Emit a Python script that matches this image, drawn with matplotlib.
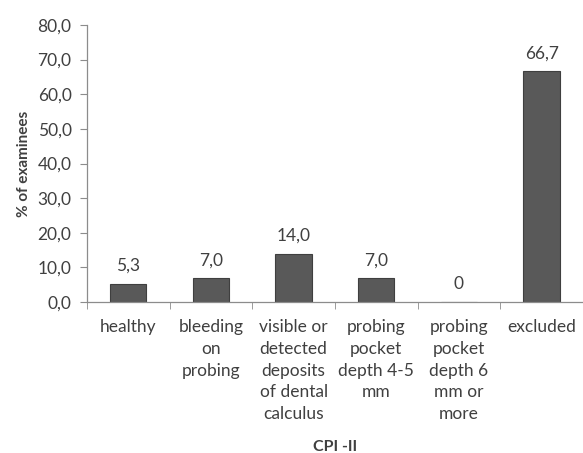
import matplotlib
matplotlib.use("Agg")
import matplotlib.pyplot as plt
import numpy as np

categories = [
    "healthy",
    "bleeding\non\nprobing",
    "visible or\ndetected\ndeposits\nof dental\ncalculus",
    "probing\npocket\ndepth 4-5\nmm",
    "probing\npocket\ndepth 6\nmm or\nmore",
    "excluded",
]
values = [5.3, 7.0, 14.0, 7.0, 0.0, 66.7]
value_labels = ["5,3", "7,0", "14,0", "7,0", "0", "66,7"]
y_ticks = [0, 10, 20, 30, 40, 50, 60, 70, 80]
y_tick_labels = ["0,0", "10,0", "20,0", "30,0", "40,0", "50,0", "60,0", "70,0", "80,0"]

plt.rcParams["font.family"] = ["Lato", "DejaVu Sans"]
text_color = "#404040"
axis_color = "#8c8c8c"

fig = plt.figure(figsize=(5.83, 4.53), dpi=100)
ax = fig.add_axes([0.149, 0.333, 0.851, 0.612])

x = np.arange(len(categories))
ax.bar(x, values, width=0.44, color="#595959", edgecolor="#3f3f3f", linewidth=0.8)

for xi, v, lab in zip(x, values, value_labels):
    ax.annotate(lab, (xi, v), xytext=(0, 7), textcoords="offset points",
                ha="center", va="bottom", fontsize=12.5, color=text_color)

ax.set_xlim(-0.5, len(categories) - 0.5)
ax.set_ylim(0, 80)
ax.set_yticks(y_ticks)
ax.set_yticklabels(y_tick_labels, fontsize=12.5, color=text_color)

ax.set_xticks(x)
ax.set_xticklabels(categories, fontsize=12.5, color=text_color, linespacing=1.45, va="top")
ax.tick_params(axis="x", length=0, pad=12)
ax.set_xticks(np.arange(len(categories)) - 0.5, minor=True)
ax.tick_params(axis="x", which="minor", length=5, color=axis_color, direction="out")
ax.tick_params(axis="y", length=5, color=axis_color, direction="out", pad=6)

for side in ["top", "right"]:
    ax.spines[side].set_visible(False)
for side in ["left", "bottom"]:
    ax.spines[side].set_color(axis_color)
    ax.spines[side].set_linewidth(0.9)

ax.set_ylabel("% of examinees", fontsize=11, fontweight="bold", color=text_color, labelpad=5)
fig.text(0.149 + 0.851 / 2, 1 - 451 / 453, "CPI -II", ha="center", va="baseline",
         fontsize=11.5, fontweight="bold", color=text_color)

fig.savefig("out.png", dpi=100)
